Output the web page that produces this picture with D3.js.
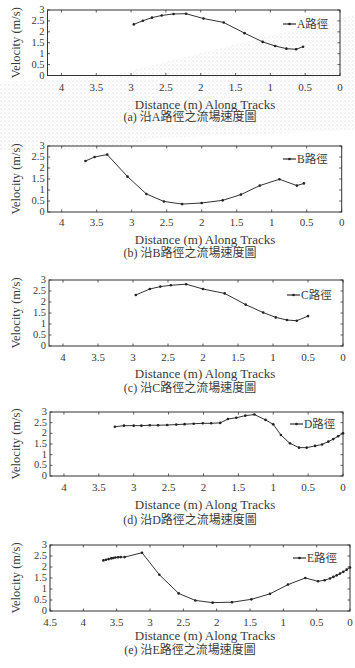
<!DOCTYPE html>
<html lang="zh-Hant">
    <head>
        <meta charset="utf-8">
        <title>沿路徑之流場速度圖</title>
        <script type="text/javascript" src="https://cdn.jsdelivr.net/npm/d3@7"></script>
        <style>
            body { margin: 0; background: #fff; }
            text { font-family: "Liberation Serif", "Noto Sans CJK TC", serif; fill: #3a3a3a; font-weight: normal; }
        </style>
    </head>
    <body>
        <script type="text/javascript">
            var w = 355;
            var h = 668;

            // tick labels
            var xTicks = [4, 3.5, 3, 2.5, 2, 1.5, 1, 0.5, 0];
            var xTicksE = [4.5, 4, 3.5, 3, 2.5, 2, 1.5, 1, 0.5, 0];
            var yTicks = [0, 0.5, 1, 1.5, 2, 2.5, 3];

            var captions = ["(a) 沿A路徑之流場速度圖", "(b) 沿B路徑之流場速度圖", "(c) 沿C路徑之流場速度圖",
                            "(d) 沿D路徑之流場速度圖", "(e) 沿E路徑之流場速度圖"];
            var legendNames = ["A路徑", "B路徑", "C路徑", "D路徑", "E路徑"];

            // series values
            var distA = [2.96, 2.83, 2.70, 2.56, 2.39, 2.21, 1.96, 1.67, 1.37, 1.11, 0.93, 0.77, 0.63, 0.53];
            var velA  = [2.34, 2.51, 2.65, 2.75, 2.82, 2.83, 2.61, 2.43, 1.94, 1.54, 1.35, 1.23, 1.20, 1.32];

            var distB = [3.66, 3.53, 3.35, 3.06, 2.79, 2.54, 2.28, 2.00, 1.70, 1.44, 1.17, 0.89, 0.64, 0.54];
            var velB  = [2.32, 2.50, 2.61, 1.61, 0.82, 0.48, 0.36, 0.41, 0.53, 0.79, 1.20, 1.49, 1.20, 1.30];

            var distC = [2.96, 2.76, 2.61, 2.46, 2.24, 2.00, 1.69, 1.39, 1.14, 0.96, 0.80, 0.66, 0.50];
            var velC  = [2.32, 2.59, 2.70, 2.76, 2.81, 2.59, 2.39, 1.88, 1.52, 1.30, 1.18, 1.15, 1.36];

            var distD = [3.27, 3.14, 3.00, 2.89, 2.77, 2.65, 2.52, 2.39, 2.27, 2.14, 2.01, 1.89, 1.76,
                         1.65, 1.53, 1.40, 1.27, 1.11, 1.00, 0.89, 0.76, 0.63, 0.52, 0.40, 0.30, 0.21, 0.14, 0.07, 0.00];
            var velD  = [2.31, 2.36, 2.36, 2.36, 2.38, 2.38, 2.39, 2.41, 2.43, 2.45, 2.47, 2.47, 2.49,
                         2.67, 2.73, 2.83, 2.88, 2.63, 2.42, 1.92, 1.53, 1.33, 1.33, 1.41, 1.48, 1.61, 1.73, 1.86, 2.00];

            var distE = [3.70, 3.66, 3.62, 3.58, 3.55, 3.52, 3.48, 3.44, 3.38, 3.12, 2.86, 2.57, 2.32, 2.06, 1.77,
                         1.48, 1.20, 0.93, 0.67, 0.48, 0.38, 0.30, 0.25, 0.20, 0.15, 0.10, 0.05, 0.00];
            var velE  = [2.30, 2.33, 2.36, 2.39, 2.41, 2.43, 2.44, 2.45, 2.45, 2.65, 1.65, 0.80, 0.48, 0.38, 0.40,
                         0.53, 0.78, 1.20, 1.50, 1.35, 1.40, 1.48, 1.55, 1.62, 1.70, 1.78, 1.88, 1.98];

            var distances = [distA, distB, distC, distD, distE];
            var velocities = [velA, velB, velC, velD, velE];

            // frame of each plot: left, right, top, bottom, max distance
            var panels = [
                { l: 47.5, r: 340, t: 10,  b: 75.5, xmax: 4.2, ticks: xTicks,  tickY: 87,  titleY: 104, capY: 117, legX: 283, legY: 24 },
                { l: 47.7, r: 341.7, t: 146, b: 212, xmax: 4.2, ticks: xTicks, tickY: 222, titleY: 239, capY: 253, legX: 283, legY: 159 },
                { l: 49,   r: 343, t: 280, b: 346, xmax: 4.2, ticks: xTicks,  tickY: 357, titleY: 373, capY: 388, legX: 287, legY: 295 },
                { l: 50,   r: 343, t: 412, b: 476, xmax: 4.2, ticks: xTicks,  tickY: 487, titleY: 504, capY: 520, legX: 290, legY: 424 },
                { l: 50,   r: 350, t: 545, b: 611, xmax: 4.5, ticks: xTicksE, tickY: 622, titleY: 635, capY: 650, legX: 293, legY: 558 }
            ];

            var svg = d3.select("body").append("svg").attr("width", w).attr("height", h);
            var stroke = "#333";

            // light scan stipple behind the first panel
            var pat = svg.append("defs").append("pattern").attr("id", "stipple")
                .attr("width", 4).attr("height", 4).attr("patternUnits", "userSpaceOnUse");
            pat.append("circle").attr("cx", 1).attr("cy", 1).attr("r", 0.55).attr("fill", "#9a9a9a");
            pat.append("circle").attr("cx", 3).attr("cy", 3).attr("r", 0.45).attr("fill", "#b0b0b0");
            svg.append("path")
               .attr("d", "M0,82 L110,76 L340,18 L355,15 L355,130 L160,138 L90,152 L0,150 Z")
               .attr("fill", "url(#stipple)").attr("opacity", 0.6);

            panels.forEach(function (p, k) {
                var xscale = d3.scaleLinear().domain([p.xmax, 0]).range([p.l, p.r]);
                var yscale = d3.scaleLinear().domain([0, 3]).range([p.b, p.t]);
                var g = svg.append("g");

                // frame
                g.append("rect").attr("x", p.l).attr("y", p.t)
                 .attr("width", p.r - p.l).attr("height", p.b - p.t)
                 .attr("fill", "none").attr("stroke", stroke).attr("stroke-width", 1);

                // inner ticks on all four sides
                g.selectAll("line.xt").data(p.ticks).enter().append("line")
                 .attr("x1", function (d) { return xscale(d); }).attr("x2", function (d) { return xscale(d); })
                 .attr("y1", p.b).attr("y2", p.b - 2.5).attr("stroke", stroke).attr("stroke-width", 0.8);
                g.selectAll("line.xt2").data(p.ticks).enter().append("line")
                 .attr("x1", function (d) { return xscale(d); }).attr("x2", function (d) { return xscale(d); })
                 .attr("y1", p.t).attr("y2", p.t + 2.5).attr("stroke", stroke).attr("stroke-width", 0.8);
                g.selectAll("line.yt").data(yTicks).enter().append("line")
                 .attr("x1", p.l).attr("x2", p.l + 2.5)
                 .attr("y1", function (d) { return yscale(d); }).attr("y2", function (d) { return yscale(d); })
                 .attr("stroke", stroke).attr("stroke-width", 0.8);
                g.selectAll("line.yt2").data(yTicks).enter().append("line")
                 .attr("x1", p.r).attr("x2", p.r - 2.5)
                 .attr("y1", function (d) { return yscale(d); }).attr("y2", function (d) { return yscale(d); })
                 .attr("stroke", stroke).attr("stroke-width", 0.8);

                // tick labels
                g.selectAll("text.xl").data(p.ticks).enter().append("text")
                 .text(function (d) { return String(d); })
                 .attr("x", function (d) { return xscale(d); }).attr("y", p.tickY)
                 .attr("dy", "0.35em").attr("text-anchor", "middle").attr("font-size", "11px");
                g.selectAll("text.yl").data(yTicks).enter().append("text")
                 .text(function (d) { return String(d); })
                 .attr("x", p.l - 3).attr("y", function (d) { return yscale(d); })
                 .attr("dy", "0.3em").attr("text-anchor", "end").attr("font-size", "10.5px");

                // axis titles and caption
                g.append("text").text("Distance (m) Along Tracks")
                 .attr("x", 205).attr("y", p.titleY).attr("dy", "0.35em")
                 .attr("text-anchor", "middle").attr("font-size", "13px");
                g.append("text").text("Velocity (m/s)")
                 .attr("transform", "translate(16," + ((p.t + p.b) / 2) + ") rotate(-90)")
                 .attr("dy", "0.35em").attr("text-anchor", "middle").attr("font-size", "12.5px");
                g.append("text").text(captions[k])
                 .attr("x", 190).attr("y", p.capY).attr("dy", "0.35em")
                 .attr("text-anchor", "middle").attr("font-size", "12px");

                // series line with dot markers
                var pts = distances[k].map(function (d, i) { return [d, velocities[k][i]]; });
                var line = d3.line()
                    .x(function (d) { return xscale(d[0]); })
                    .y(function (d) { return yscale(d[1]); });
                g.append("path").datum(pts).attr("d", line)
                 .attr("fill", "none").attr("stroke", stroke).attr("stroke-width", 1);
                g.selectAll("circle").data(pts).enter().append("circle")
                 .attr("cx", function (d) { return xscale(d[0]); })
                 .attr("cy", function (d) { return yscale(d[1]); })
                 .attr("r", 1.3).attr("fill", "#222");

                // legend
                g.append("line").attr("x1", p.legX).attr("x2", p.legX + 13)
                 .attr("y1", p.legY).attr("y2", p.legY).attr("stroke", stroke).attr("stroke-width", 1.2);
                g.append("circle").attr("cx", p.legX + 6.5).attr("cy", p.legY).attr("r", 1.3).attr("fill", "#222");
                g.append("text").text(legendNames[k])
                 .attr("x", p.legX + 14).attr("y", p.legY).attr("dy", "0.35em").attr("font-size", "11.5px");
            });
        </script>
    </body>
</html>
